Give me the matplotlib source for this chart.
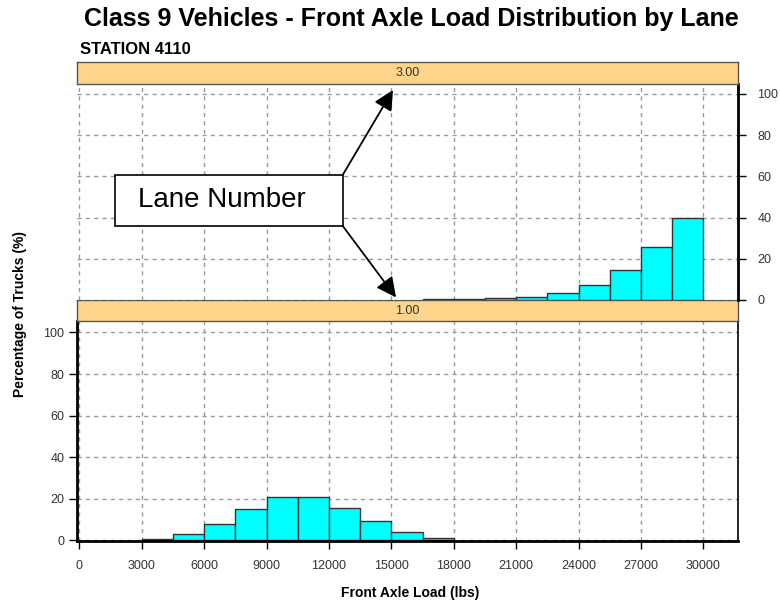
import numpy as np
import matplotlib.pyplot as plt
from matplotlib.patches import Rectangle

plt.rcParams['font.family'] = ['Liberation Sans', 'DejaVu Sans']

# histogram bins (left edges, lbs) and percentages per lane
bin_width = 1500
lane1_bins = [3000, 4500, 6000, 7500, 9000, 10500, 12000, 13500, 15000, 16500]
lane1_pct = [0.6, 2.9, 7.8, 15.0, 20.8, 20.8, 15.7, 9.3, 4.2, 1.1]
lane3_bins = [16500, 18000, 19500, 21000, 22500, 24000, 25500, 27000, 28500]
lane3_pct = [0.25, 0.25, 0.8, 1.3, 3.3, 7.5, 14.4, 25.6, 39.8]

xticks = list(range(0, 30001, 3000))
yticks = [0, 20, 40, 60, 80, 100]

W, H = 780, 608
fig = plt.figure(figsize=(W / 100, H / 100), dpi=100)

def fx(px):
    return px / W

def fy(py):
    return 1 - py / H

left, right = 77, 738
ax_bot = fig.add_axes([fx(left), fy(541), fx(right - left), (541 - 321) / H])
strip_bot = fig.add_axes([fx(left), fy(321), fx(right - left), (321 - 300) / H])
ax_top = fig.add_axes([fx(left), fy(300), fx(right - left), (300 - 84) / H])
strip_top = fig.add_axes([fx(left), fy(84), fx(right - left), (84 - 62) / H])

strip_col = '#FFD58C'
for s, lab in [(strip_bot, '1.00'), (strip_top, '3.00')]:
    s.set_facecolor(strip_col)
    s.set_xticks([])
    s.set_yticks([])
    for sp in s.spines.values():
        sp.set_color('#555555')
        sp.set_linewidth(1)
    s.text(0.5, 0.5, lab, ha='center', va='center', fontsize=9, color='#333333',
           transform=s.transAxes)

grid_kw = dict(color='#999999', linestyle=(0, (3, 3)), linewidth=1)

for ax in (ax_bot, ax_top):
    ax.set_xlim(-110, 31660)
    ax.set_xticks(xticks)
    ax.set_yticks(yticks)
    ax.grid(True, **grid_kw)
    ax.set_axisbelow(True)

ax_bot.set_ylim(-0.3, 105.5)
ax_top.set_ylim(0, 104.8)

ax_bot.bar(lane1_bins, lane1_pct, width=bin_width, align='edge',
           color='#00FFFF', edgecolor='#333333', linewidth=1, zorder=2)
ax_top.bar(lane3_bins, lane3_pct, width=bin_width, align='edge',
           color='#00FFFF', edgecolor='#333333', linewidth=1, zorder=2)

# bottom panel (lane 1)
ax_bot.tick_params(axis='x', direction='out', length=6, width=1, labelsize=9,
                   labelcolor='#333333', pad=8)
ax_bot.tick_params(axis='y', direction='out', length=6, width=1, labelsize=9,
                   labelcolor='#333333', pad=3)
ax_bot.spines['left'].set_linewidth(2)
ax_bot.spines['bottom'].set_linewidth(2)
ax_bot.spines['right'].set_linewidth(1.2)
ax_bot.spines['top'].set_visible(False)

# top panel (lane 3)
ax_top.yaxis.tick_right()
ax_top.tick_params(axis='y', direction='out', length=6, width=1, labelsize=9,
                   labelcolor='#333333', pad=8)
ax_top.tick_params(axis='x', length=0, labelbottom=False)
ax_top.spines['right'].set_linewidth(2)
ax_top.spines['left'].set_visible(False)
ax_top.spines['top'].set_visible(False)
ax_top.spines['bottom'].set_visible(False)

# callout
ax_top.add_patch(Rectangle((0.0575, 0.343), 0.3445, 0.236, transform=ax_top.transAxes,
                           facecolor='white', edgecolor='black', linewidth=1.2, zorder=5))
ax_top.text(0.0925, 0.461, 'Lane Number', fontsize=20, ha='left', va='center',
            transform=ax_top.transAxes, zorder=6)
arrow_kw = dict(arrowstyle='-|>', mutation_scale=30, color='black', lw=1.3,
                shrinkA=0, shrinkB=0)
ax_top.annotate('', xy=(0.478, 0.972), xytext=(0.402, 0.579), xycoords='axes fraction',
                textcoords='axes fraction', arrowprops=arrow_kw, zorder=6,
                annotation_clip=False)
ax_top.annotate('', xy=(0.4826, 0.012), xytext=(0.402, 0.343), xycoords='axes fraction',
                textcoords='axes fraction', arrowprops=arrow_kw, zorder=6,
                annotation_clip=False)

fig.text(fx(411), fy(19), 'Class 9 Vehicles - Front Axle Load Distribution by Lane',
         fontsize=18, fontweight='bold', ha='center', va='center')
fig.text(fx(80), fy(49), 'STATION 4110', fontsize=12, fontweight='bold',
         ha='left', va='center')
fig.text(fx(20), fy(314), 'Percentage of Trucks (%)', fontsize=10, fontweight='bold',
         rotation=90, ha='center', va='center')
fig.text(fx(410), fy(593), 'Front Axle Load (lbs)', fontsize=10, fontweight='bold',
         ha='center', va='center')

fig.savefig('out.png', dpi=100)
